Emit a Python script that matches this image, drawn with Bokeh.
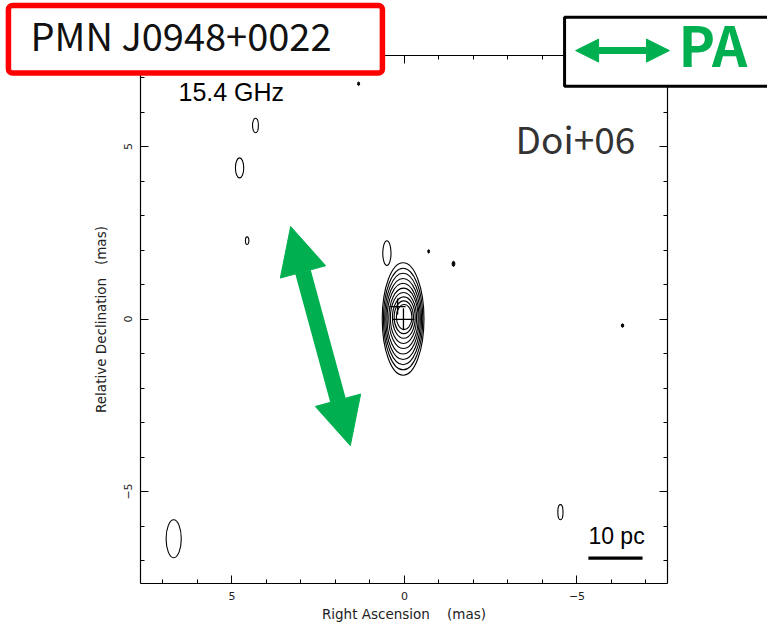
from bokeh.plotting import figure
from bokeh.models import (Range1d, LinearAxis, SingleIntervalTicker, Label,
                          BoxAnnotation, Arrow, NormalHead, ColumnDataSource)
from bokeh.embed import file_html
from bokeh.resources import INLINE

# Map extent (mas): RA runs right-to-left
ra_lim = (7.65, -7.62)
dec_lim = (-7.67, 7.64)

# Core component: nested contour levels (centre, full width / height in mas)
core_x = [0.04, 0.04, 0.04, 0.04, 0.04, 0.03, 0.03, 0.02, 0.02, 0.01]
core_y = [0.00, 0.00, 0.00, 0.00, 0.01, 0.02, 0.03, 0.04, 0.05, 0.06]
core_w = [1.21, 1.14, 1.07, 1.00, 0.93, 0.85, 0.76, 0.66, 0.56, 0.45]
core_h = [3.26, 2.95, 2.65, 2.35, 2.05, 1.75, 1.48, 1.20, 0.95, 0.72]

# Weak isolated contours around the map
blob_x = [0.51, 4.32, 4.78, 4.56, 6.69, -4.52]
blob_y = [1.91, 5.61, 4.38, 2.27, -6.37, -5.60]
blob_w = [0.24, 0.17, 0.24, 0.10, 0.44, 0.15]
blob_h = [0.72, 0.42, 0.58, 0.22, 1.10, 0.44]

# Tiny closed contours (drawn as filled specks)
dot_x = [-0.70, -1.42, -6.32, 1.33]
dot_y = [1.96, 1.60, -0.19, 6.82]
dot_w = [0.05, 0.08, 0.07, 0.06]
dot_h = [0.10, 0.15, 0.10, 0.10]

# Model component markers
comp_x = [0.20, 0.03]
comp_y = [0.36, -0.01]
comp_size = [16, 22]

# Position-angle arrow (mas)
pa_start = (3.30, 2.68)
pa_end = (1.57, -3.67)

# 10 pc scale bar (mas)
bar_x = [-5.33, -6.90]
bar_y = [-6.93, -6.93]

GREEN = "#00B050"
NBSP = "\u00a0"

# The data area fills the whole canvas so that the header boxes can sit
# above the map; the map frame is drawn by four axes pinned to its edges.
p = figure(width=767, height=625, output_backend="svg", toolbar_location=None,
           x_range=Range1d(11.710, -10.522), y_range=Range1d(-8.884, 9.232),
           x_axis_location=None, y_axis_location=None,
           min_border=0)
p.grid.visible = False
p.outline_line_color = None
p.background_fill_color = "white"
p.border_fill_color = "white"


def make_axis(fixed, bounds, show_labels, label=""):
    ax = LinearAxis(fixed_location=fixed, bounds=bounds)
    ax.ticker = SingleIntervalTicker(interval=5, num_minor_ticks=5)
    ax.major_tick_in = 8
    ax.major_tick_out = 0
    ax.minor_tick_in = 4
    ax.minor_tick_out = 0
    ax.axis_line_color = "black"
    ax.axis_line_width = 1.2
    ax.major_tick_line_color = "black"
    ax.minor_tick_line_color = "black"
    ax.major_label_text_font = "DejaVu Sans"
    ax.major_label_text_font_size = "11px"
    ax.major_label_text_color = "#222222" if show_labels else None
    ax.major_label_overrides = {-5: "\u22125"}
    ax.axis_label = label
    ax.axis_label_text_font = "DejaVu Sans"
    ax.axis_label_text_font_size = "13.5px"
    ax.axis_label_text_font_style = "normal"
    ax.axis_label_text_color = "#222222"
    return ax


dec_bounds = (min(dec_lim), max(dec_lim))
ra_bounds = (min(ra_lim), max(ra_lim))

bottom_ax = make_axis(dec_lim[0], ra_bounds, True,
                      "Right Ascension" + NBSP * 4 + "(mas)")
bottom_ax.major_label_standoff = 8
bottom_ax.axis_label_standoff = 3
left_ax = make_axis(ra_lim[0], dec_bounds, True,
                    "Relative Declination" + NBSP * 3 + "(mas)")
left_ax.major_label_orientation = "vertical"
left_ax.major_label_standoff = 9
left_ax.axis_label_standoff = 12
top_ax = make_axis(dec_lim[1], ra_bounds, False)
right_ax = make_axis(ra_lim[1], dec_bounds, False)

p.add_layout(bottom_ax, "below")
p.add_layout(left_ax, "left")
p.add_layout(top_ax, "above")
p.add_layout(right_ax, "right")

# Contours
core = ColumnDataSource(dict(x=core_x, y=core_y, w=core_w, h=core_h))
p.ellipse(x="x", y="y", width="w", height="h", source=core,
          fill_color=None, line_color="black", line_width=1.1)
blobs = ColumnDataSource(dict(x=blob_x, y=blob_y, w=blob_w, h=blob_h))
p.ellipse(x="x", y="y", width="w", height="h", source=blobs,
          fill_color=None, line_color="black", line_width=1.1)
dots = ColumnDataSource(dict(x=dot_x, y=dot_y, w=dot_w, h=dot_h))
p.ellipse(x="x", y="y", width="w", height="h", source=dots,
          fill_color="black", line_color="black", line_width=1)
p.scatter(x=comp_x, y=comp_y, size=comp_size, marker="cross",
          line_color="black", line_width=1.3)

# Scale bar
p.line(x=bar_x, y=bar_y, line_color="black", line_width=3.3)
p.add_layout(Label(x=bar_x[0], y=-6.30, text="10 pc",
                   text_font="Liberation Sans", text_font_size="23px",
                   text_color="black", text_baseline="alphabetic"))

# Position-angle double arrow
p.add_layout(Arrow(x_start=pa_start[0], y_start=pa_start[1],
                   x_end=pa_end[0], y_end=pa_end[1],
                   line_color=GREEN, line_width=16,
                   start=NormalHead(size=47, fill_color=GREEN, line_color=GREEN),
                   end=NormalHead(size=47, fill_color=GREEN, line_color=GREEN)))

# Frequency and reference annotations
p.add_layout(Label(x=6.55, y=6.59, text="15.4 GHz",
                   text_font="Liberation Sans", text_font_size="25px",
                   text_color="black", text_baseline="alphabetic"))
p.add_layout(Label(x=-3.22, y=5.24, text="Doi+06",
                   text_font="Noto Sans CJK JP", text_font_size="37px",
                   text_color="#333333", text_baseline="alphabetic"))

# Source name box
p.add_layout(BoxAnnotation(left=11.48, right=0.64, bottom=7.13, top=9.09,
                           fill_color="white", fill_alpha=1,
                           line_color="#FF0000", line_alpha=1, line_width=5.5,
                           border_radius=4))
p.add_layout(Label(x=10.84, y=8.24, text="PMN J0948+0022",
                   text_font="Noto Sans CJK JP", text_font_size="38px",
                   text_color="#111111", text_baseline="alphabetic"))

# PA legend box
p.add_layout(BoxAnnotation(left=-4.64, right=-11.5, bottom=6.75, top=8.75,
                           fill_color="white", fill_alpha=1,
                           line_color="black", line_alpha=1, line_width=3))
p.add_layout(Arrow(x_start=-4.96, y_start=7.78, x_end=-7.68, y_end=7.78,
                   line_color=GREEN, line_width=7,
                   start=NormalHead(size=23, fill_color=GREEN, line_color=GREEN),
                   end=NormalHead(size=23, fill_color=GREEN, line_color=GREEN)))
p.add_layout(Label(x=-7.94, y=7.99, text="PA",
                   text_font="Noto Sans CJK JP", text_font_size="55px",
                   text_font_style="bold", text_color=GREEN,
                   text_baseline="alphabetic"))

open("out.html", "w").write(file_html(p, INLINE))
